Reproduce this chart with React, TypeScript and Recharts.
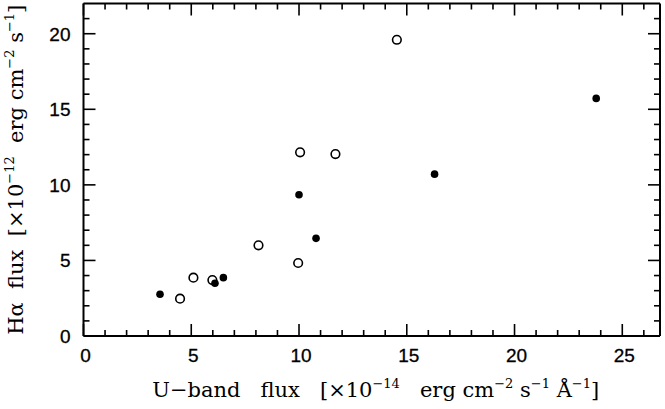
import { ScatterChart, Scatter, XAxis, YAxis } from "recharts";

// filled circles
const filledX = [3.55, 6.1, 6.49, 10.0, 10.79, 16.29, 23.79];
const filledY = [2.76, 3.49, 3.86, 9.35, 6.46, 10.71, 15.72];
// open circles
const openX = [4.48, 5.1, 5.98, 8.12, 9.96, 10.05, 11.69, 14.54];
const openY = [2.47, 3.86, 3.7, 6.0, 4.83, 12.15, 12.04, 19.6];

const xTicks = [0, 1, 2, 3, 4, 5, 6, 7, 8, 9, 10, 11, 12, 13, 14, 15, 16, 17, 18, 19, 20, 21, 22, 23, 24, 25, 26];
const yTicks = [0, 1, 2, 3, 4, 5, 6, 7, 8, 9, 10, 11, 12, 13, 14, 15, 16, 17, 18, 19, 20, 21];
const majorEvery = 5;

const X_DOMAIN: [number, number] = [0, 26.75];
const Y_DOMAIN: [number, number] = [0, 22];

const filled = filledX.map((x, i) => ({ x, y: filledY[i] }));
const open = openX.map((x, i) => ({ x, y: openY[i] }));

const SANS = "'Liberation Sans', Arial, sans-serif";
const SERIF = "'DejaVu Serif', serif";

function makeTick(side: "bottom" | "top" | "left" | "right") {
  return (props: any) => {
    const { x, y, payload } = props;
    const v = payload.value;
    const major = v % majorEvery === 0;
    const len = major ? 12 : 6;
    let x2 = x, y2 = y;
    if (side === "bottom") y2 = y - len;
    if (side === "top") y2 = y + len;
    if (side === "left") x2 = x + len;
    if (side === "right") x2 = x - len;
    return (
      <g>
        <line x1={x} y1={y} x2={x2} y2={y2} stroke="#000" strokeWidth={1.6} />
        {major && side === "bottom" && (
          <text x={x + 2} y={y + 26} textAnchor="middle" fontFamily={SANS} fontSize={19} fill="#000" stroke="#000" strokeWidth={0.3}>
            {v}
          </text>
        )}
        {major && side === "left" && (
          <text x={x - 13} y={y + 7} textAnchor="end" fontFamily={SANS} fontSize={19} fill="#000" stroke="#000" strokeWidth={0.3}>
            {v}
          </text>
        )}
      </g>
    );
  };
}

const sup = { fontSize: 13 };

function XTitle(props: any) {
  const vb = props.viewBox;
  const cx = vb.x + vb.width / 2 + 4;
  const by = vb.y + 61;
  return (
    <text x={cx} y={by} textAnchor="middle" fontFamily={SERIF} fontSize={21} fill="#000" xmlSpace="preserve">
      {"U\u2212band   flux   [\u00d710"}
      <tspan dy={-9} {...sup}>{"\u221214"}</tspan>
      <tspan dy={9}>{"   erg cm"}</tspan>
      <tspan dy={-9} {...sup}>{"\u22122"}</tspan>
      <tspan dy={9}>{" s"}</tspan>
      <tspan dy={-9} {...sup}>{"\u22121"}</tspan>
      <tspan dy={9}>{" \u00c5"}</tspan>
      <tspan dy={-9} {...sup}>{"\u22121"}</tspan>
      <tspan dy={9}>{"]"}</tspan>
    </text>
  );
}

function YTitle(props: any) {
  const vb = props.viewBox;
  const cx = vb.x + 23;
  const cy = vb.y + vb.height / 2;
  return (
    <text
      x={cx}
      y={cy}
      textAnchor="middle"
      fontFamily={SERIF}
      fontSize={21}
      fill="#000"
      xmlSpace="preserve"
      transform={`rotate(-90 ${cx} ${cy})`}
    >
      {"H\u03b1  flux  [\u00d710"}
      <tspan dy={-9} {...sup}>{"\u221212"}</tspan>
      <tspan dy={9}>{"  erg cm"}</tspan>
      <tspan dy={-9} {...sup}>{"\u22122"}</tspan>
      <tspan dy={9}>{" s"}</tspan>
      <tspan dy={-9} {...sup}>{"\u22121"}</tspan>
      <tspan dy={9}>{"]"}</tspan>
    </text>
  );
}

const FilledDot = (p: any) => <circle cx={p.cx} cy={p.cy} r={3.8} fill="#000" />;
const OpenDot = (p: any) => (
  <circle cx={p.cx} cy={p.cy} r={4.3} fill="#fff" stroke="#000" strokeWidth={1.6} />
);

const axisLine = { stroke: "#000", strokeWidth: 2 };

export default function App() {
  return (
    <div style={{ position: "absolute", left: 0, top: 0, background: "#fff" }}>
      <ScatterChart width={665} height={409} margin={{ top: 0, right: 0, bottom: 0, left: 0 }}>
        <XAxis
          xAxisId="b"
          dataKey="x"
          type="number"
          orientation="bottom"
          domain={X_DOMAIN}
          ticks={xTicks}
          interval={0}
          height={73}
          tickSize={0}
          tickMargin={0}
          tickLine={false}
          axisLine={axisLine}
          tick={makeTick("bottom")}
          allowDataOverflow
          label={(p: any) => <XTitle {...p} />}
        />
        <XAxis
          xAxisId="t"
          dataKey="x"
          type="number"
          orientation="top"
          domain={X_DOMAIN}
          ticks={xTicks}
          interval={0}
          height={3.5}
          tickSize={0}
          tickMargin={0}
          tickLine={false}
          axisLine={axisLine}
          tick={makeTick("top")}
          allowDataOverflow
        />
        <YAxis
          yAxisId="l"
          dataKey="y"
          type="number"
          orientation="left"
          domain={Y_DOMAIN}
          ticks={yTicks}
          interval={0}
          width={83.5}
          tickSize={0}
          tickMargin={0}
          tickLine={false}
          axisLine={axisLine}
          tick={makeTick("left")}
          allowDataOverflow
          label={(p: any) => <YTitle {...p} />}
        />
        <YAxis
          yAxisId="r"
          dataKey="y"
          type="number"
          orientation="right"
          domain={Y_DOMAIN}
          ticks={yTicks}
          interval={0}
          width={5}
          tickSize={0}
          tickMargin={0}
          tickLine={false}
          axisLine={axisLine}
          tick={makeTick("right")}
          allowDataOverflow
        />
        <Scatter xAxisId="b" yAxisId="l" data={open} shape={OpenDot} isAnimationActive={false} />
        <Scatter xAxisId="b" yAxisId="l" data={filled} shape={FilledDot} isAnimationActive={false} />
        <Scatter xAxisId="t" yAxisId="r" data={[]} isAnimationActive={false} />
      </ScatterChart>
    </div>
  );
}
